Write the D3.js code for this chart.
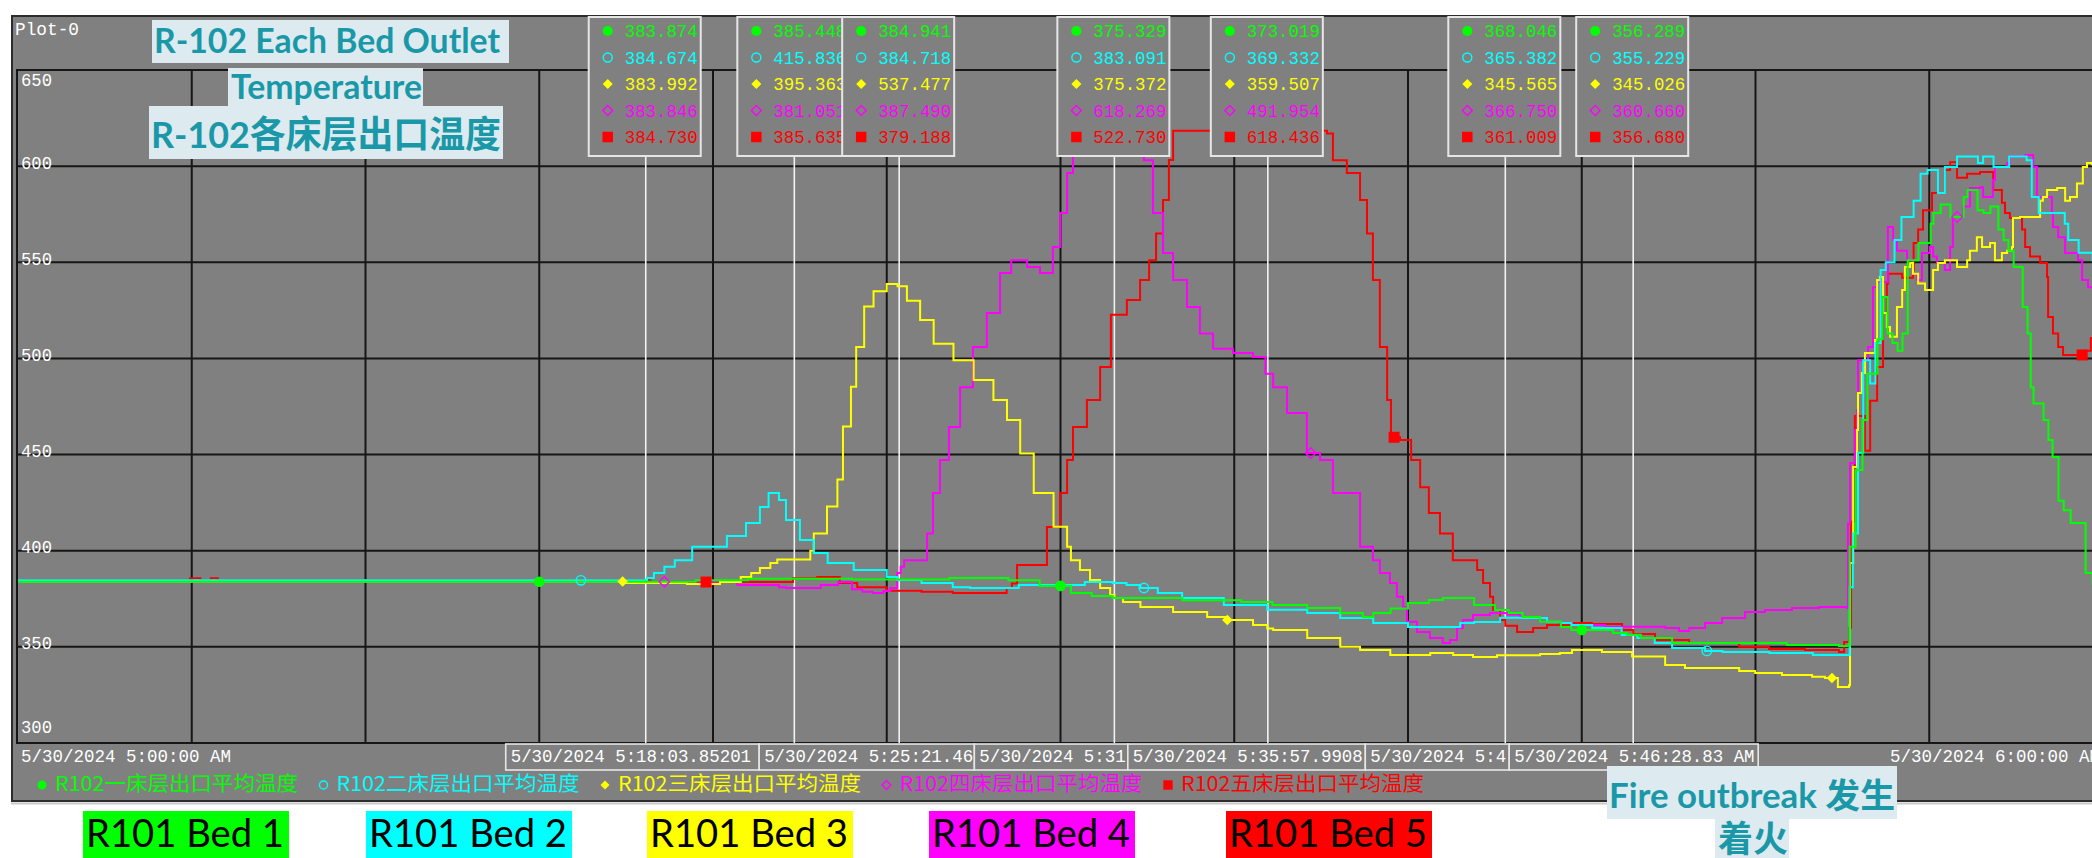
<!DOCTYPE html>
<html lang="en">
<head>
<meta charset="UTF-8">
<title>R-102 Each Bed Outlet Temperature</title>
<script src="https://cdn.jsdelivr.net/npm/d3@7"></script>
<style>
body { margin: 0; background: #fff; }
svg { display: block; }
.mono { font-family: "Liberation Mono", "DejaVu Sans Mono", monospace; font-size: 18px; }
.title { font-family: Lato, "Noto Sans CJK SC", sans-serif; font-weight: 700; fill: #1a98a8; }
.cjk { font-family: "Noto Sans CJK SC", sans-serif; }
</style>
</head>
<body>
<svg width="2092" height="858"></svg>
<script>
// series: [minutes after 5:00, temperature]
var bed1 = [[0,383.9],[19.5,384.6],[21,385.4],[24,385],[26.8,385.8],[28.5,384.6],[29.4,381.7],[30.3,378],[30.9,376.5],[31.5,375.4],[33.5,374.2],[35.2,373.3],[36.1,371.8],[37.1,370.2],[38.05,367.6],[38.7,365.5],[39,367.6],[39.5,370],[40,372.8],[40.6,374.4],[41,375.4],[41.9,371.8],[42.5,369.2],[42.9,367.6],[43.3,365.5],[43.8,363],[44.4,360.3],[44.7,358.8],[45.9,357.2],[46.3,356.3],[46.7,354.6],[47.6,352],[49.5,352],[50.9,351],[52.4,350.5],[52.71,402],[52.88,442],[53.08,468],[53.22,492],[53.51,510],[53.66,532],[53.8,513],[53.94,508],[54.09,504],[54.23,513],[54.38,551],[54.69,560],[55.04,570],[55.12,575.6],[55.33,580],[55.61,573.6],[55.99,584],[56.1,587.6],[56.39,577],[56.56,575.6],[56.76,579],[56.99,567],[57.14,561.6],[57.28,556],[57.43,547.6],[57.69,526.7],[57.83,513],[57.92,485],[58,476.6],[58.29,468],[58.43,457.6],[58.55,448.8],[58.72,426],[58.87,421],[59.07,414.4],[59.5,388.4],[59.7,383],[60.3,380]];
var bed2 = [[0,384.6],[18.1,385.8],[18.3,388.4],[18.6,391.6],[18.9,395],[19.4,402],[20.4,407.6],[20.95,414.4],[21.35,422.7],[21.6,430],[21.9,426.4],[22.1,416],[22.5,405.6],[22.9,398.8],[23.3,393.6],[24.05,390],[25,386.3],[25.3,384.8],[26,383.2],[26.9,381],[27.4,380.6],[28.8,382.2],[30.7,383.7],[31.5,383.2],[31.9,382.2],[32.3,380.6],[32.8,378],[33.5,375.4],[34.7,371.8],[35.95,369.3],[37.1,367.6],[38.05,365],[39,362.4],[40,360.3],[41.15,360.3],[41.5,362.4],[41.9,362.9],[42.65,365.2],[43.3,365],[44,363],[44.4,362.4],[44.7,361.4],[45.3,359.8],[46.15,356.2],[46.6,354.6],[47.1,352],[47.6,349.4],[48.55,347.9],[49.05,347.3],[50.4,346.8],[51.65,345.8],[52.71,381],[52.8,409],[52.95,451],[53.1,499],[53.3,487],[53.45,508],[53.6,546],[53.75,550],[54,561.6],[54.2,573.6],[54.55,582],[54.75,596],[54.95,598],[55.25,586],[55.45,599.6],[55.8,605],[56.4,601.6],[56.55,605],[56.85,599.6],[57.3,605],[57.8,603],[57.95,584],[58.15,575.6],[58.9,570],[59,561.6],[59.3,555],[59.7,551],[60.3,550]];
var bed3 = [[0,384],[17.5,383.2],[19.25,382.7],[20.2,383.7],[20.8,386.3],[21.1,388.4],[21.35,391],[21.65,393.6],[21.85,395.4],[22.8,400],[22.9,409],[23.28,423],[23.58,437],[23.74,464.6],[23.97,485.3],[24.12,506],[24.35,527],[24.62,535],[25,538.7],[25.31,537.5],[25.58,530],[25.96,520],[26.35,507.6],[26.92,499],[27.5,488.8],[28.07,478.4],[28.46,468],[28.84,450.6],[29.23,430],[29.8,412.5],[30.19,402],[30.3,395],[30.56,390],[30.85,384.8],[31.14,380.6],[31.43,377],[31.55,375.4],[31.8,373.3],[32.3,370.7],[33.24,368.1],[34.22,365.5],[34.8,364],[35.54,361.4],[35.95,359.5],[36.12,358.8],[37.1,354.6],[38.05,350],[38.62,348.4],[39.49,345.8],[40.64,346.8],[41.3,345.8],[41.87,344.7],[42.56,345.6],[43.8,346.3],[44.37,346.8],[44.72,348.4],[45.58,347.3],[46.45,345],[47.4,340.6],[47.97,339],[49.53,337.5],[49.99,336.4],[50.76,335.4],[51.63,334.4],[52,333.8],[52.37,329.1],[52.69,330],[52.72,393.6],[52.81,443.5],[52.92,462.8],[52.95,482],[53.06,492.4],[53.15,502.8],[53.44,509.6],[53.5,540.8],[53.58,542.4],[53.67,523.6],[53.78,516.4],[53.87,511.3],[54.07,526.7],[54.22,535.6],[54.3,547.6],[54.45,549.6],[54.53,544],[54.68,539],[54.88,535.6],[55.11,546],[55.25,549.6],[55.45,551],[55.8,547.6],[56.09,551],[56.17,556],[56.37,563],[56.52,558],[56.75,560],[56.89,551],[57.09,554.8],[57.24,556],[57.38,558],[57.41,573],[57.61,573.6],[58.19,582],[58.27,584],[58.39,587.6],[58.68,588.6],[58.91,582],[59.05,584],[59.25,591],[59.42,599.6],[59.54,601.6],[59.68,601],[60.3,600]];
var bed4 = [[0,383.8],[20.7,382.2],[21.9,381],[22.1,380.6],[23.1,382.2],[23.6,383.7],[24,380],[24.3,378.6],[24.6,378],[24.9,379],[25.1,380.6],[25.3,388.4],[25.4,391.6],[25.5,395],[26.16,409],[26.33,430],[26.53,447.2],[26.79,464.4],[27.11,485],[27.48,506],[27.88,523.6],[28.26,544.4],[28.58,551],[29.04,547.6],[29.41,544.4],[29.78,558],[29.99,575.6],[30.19,596.4],[30.36,605.3],[30.6,612],[31,618.3],[31.9,624],[32.15,612],[32.4,603],[32.66,575.6],[32.95,554.8],[33.24,540.8],[33.64,526.7],[34.01,513],[34.39,505],[34.96,502.8],[35.54,500.7],[35.9,492],[36.12,485],[36.52,471.6],[37.09,450.8],[37.47,447.2],[37.84,430],[38.62,402],[38.99,395],[39.19,388.4],[39.48,383.2],[39.68,376],[39.86,370.7],[39.97,363],[40.26,357.7],[40.63,354.6],[41,352],[41.21,353.6],[41.41,359.8],[41.58,364],[41.87,366.6],[42.36,367.6],[42.85,366.8],[43.22,365.5],[43.8,363],[44.37,362.4],[44.72,361.4],[45.67,360.5],[47.4,359.8],[47.8,358.3],[48.09,359.8],[48.55,362.4],[49.04,365],[49.7,368.1],[50.27,369.2],[51.05,370.2],[51.83,370.7],[52.63,370.2],[52.66,414],[52.72,445.6],[52.86,462.8],[52.92,473],[52.95,499],[53.24,506],[53.38,537],[53.5,539.8],[53.81,568.4],[53.96,561.6],[54.07,556],[54.36,551],[54.53,544],[54.65,540.8],[54.79,554.8],[55.02,558],[55.11,553],[55.22,549.6],[55.45,546],[55.6,558],[55.68,573.6],[55.97,579],[56.17,588.6],[56.46,589],[56.55,584],[56.83,592.8],[56.89,599.6],[57.24,601.6],[57.32,605],[57.76,605.8],[57.99,599.6],[58.1,584],[58.53,575.6],[58.56,568.4],[58.71,563],[58.91,554.8],[59.28,551],[59.4,540.8],[59.57,537],[60.3,535]];
var bed5 = [[0,384.7],[4.95,385.7],[5.25,384.7],[5.55,385.7],[5.75,384.7],[18.2,383.7],[22.3,385.7],[23,386.3],[23.65,383.2],[24.15,381],[25,379.2],[26,378.6],[26.9,378],[28.45,380.6],[28.6,383],[28.75,392.6],[29.61,412.3],[29.99,430],[30.19,447.2],[30.36,464.4],[30.76,478.4],[31.14,495.6],[31.45,522.7],[31.91,530.4],[32.29,540.8],[32.55,551],[32.75,565],[32.95,582.4],[33.12,603.2],[33.24,618.4],[37.67,617],[37.84,603],[38.24,596.4],[38.62,582.4],[38.82,565],[38.99,540.8],[39.19,506],[39.4,478.4],[39.51,459],[39.77,457.6],[40.09,447.2],[40.35,433],[40.6,419.6],[40.92,409],[41.29,395],[41.99,390],[42.16,383.2],[42.36,376],[42.45,369.2],[42.65,364],[42.8,361],[43.14,357.7],[43.6,359.8],[44,361.4],[44.72,362.4],[45.29,361.9],[46.16,358.8],[46.48,356.7],[47.11,353.6],[48.09,352],[49.53,350],[50.39,348.9],[51.42,348.4],[52.4,347.3],[52.55,352.5],[52.69,360],[52.75,415],[52.86,470],[53.15,452],[53.3,478],[53.5,495.6],[53.67,523.6],[53.78,539],[53.82,544],[54.22,542],[54.53,546],[54.55,560],[54.68,567],[54.82,577],[55.08,586],[55.45,598],[55.6,602],[55.8,594],[56.09,596],[56.46,597],[56.84,587.6],[57.09,581],[57.18,575.6],[57.32,573],[57.67,567],[57.76,558],[57.9,553],[58.19,549.6],[58.39,542.4],[58.42,521.6],[58.56,513],[58.71,506],[58.85,501.8],[59.5,504],[59.65,510.6],[60.3,512]];

var bedNames = ["R102一床层出口平均温度", "R102二床层出口平均温度", "R102三床层出口平均温度", "R102四床层出口平均温度", "R102五床层出口平均温度"];
var bedColors = ["#00ff00", "#00ffff", "#ffff00", "#ff00ff", "#ff0000"];
var bedTags = ["R101 Bed 1", "R101 Bed 2", "R101 Bed 3", "R101 Bed 4", "R101 Bed 5"];
var yTicks = [650, 600, 550, 500, 450, 400, 350, 300];
var xTickLabels = ["5/30/2024 5:00:00 AM", "5/30/2024 6:00:00 AM"];

// data cursors (minutes after 5:00) and the values read at them
var cursorMinutes = [18.0642, 22.34, 25.3577, 31.55, 35.9665, 42.8, 46.4805];
var cursorLabels = ["5/30/2024 5:18:03.85201", "", "5/30/2024 5:25:21.46", "5/30/2024 5:31", "5/30/2024 5:35:57.9908", "5/30/2024 5:4", "5/30/2024 5:46:28.83 AM"];
var cursorBed1 = [383.874, 385.448, 384.941, 375.329, 373.019, 368.046, 356.289];
var cursorBed2 = [384.674, 415.836, 384.718, 383.091, 369.332, 365.382, 355.229];
var cursorBed3 = [383.992, 395.363, 537.477, 375.372, 359.507, 345.565, 345.026];
var cursorBed4 = [383.846, 381.051, 387.490, 618.269, 491.954, 366.750, 360.660];
var cursorBed5 = [384.730, 385.635, 379.188, 522.730, 618.436, 361.009, 356.680];

var series = [bed1, bed2, bed3, bed4, bed5];
var cursorVals = [cursorBed1, cursorBed2, cursorBed3, cursorBed4, cursorBed5];

var svg = d3.select("svg");
var x = d3.scaleLinear().domain([0, 60]).range([18, 2103]);
var y = d3.scaleLinear().domain([300, 650]).range([743, 70]);
var pTop = 70, pBottom = 743, pLeft = 17, pRight = 2103;

var gray = "#808080", grid = "#161616";

svg.append("rect").attr("width", 2092).attr("height", 858).attr("fill", "#fff");
svg.append("rect").attr("x", 12).attr("y", 16).attr("width", 2100).attr("height", 785)
    .attr("fill", gray).attr("stroke", "#2c2c2c").attr("stroke-width", 2);
svg.append("line").attr("x1", 11).attr("x2", 2092).attr("y1", 803.5).attr("y2", 803.5)
    .attr("stroke", "#c8c8c8").attr("stroke-width", 2);

svg.append("text").attr("class", "mono").attr("x", 15).attr("y", 35).attr("fill", "#fff")
    .attr("textLength", 64).attr("lengthAdjust", "spacingAndGlyphs").text("Plot-0");

// grid
var g = svg.append("g");
g.selectAll(".vg").data(d3.range(5, 60, 5)).enter().append("line")
    .attr("x1", d => x(d)).attr("x2", d => x(d)).attr("y1", pTop).attr("y2", pBottom)
    .attr("stroke", grid).attr("stroke-width", 2);
g.selectAll(".hg").data(yTicks.slice(1, -1)).enter().append("line")
    .attr("x1", pLeft).attr("x2", pRight).attr("y1", d => y(d)).attr("y2", d => y(d))
    .attr("stroke", grid).attr("stroke-width", 2);
g.append("rect").attr("x", pLeft).attr("y", pTop).attr("width", pRight - pLeft).attr("height", pBottom - pTop)
    .attr("fill", "none").attr("stroke", grid).attr("stroke-width", 2);

// y labels
svg.selectAll(".yl").data(yTicks).enter().append("text").attr("class", "mono")
    .attr("x", 21)
    .attr("y", d => d === 650 ? y(d) + 16 : d === 300 ? y(d) - 10 : y(d) + 2.5)
    .attr("fill", "#fff").attr("textLength", 31).attr("lengthAdjust", "spacingAndGlyphs")
    .text(d => d);

// cursor lines
svg.selectAll(".cl").data(cursorMinutes).enter().append("line")
    .attr("x1", d => x(d)).attr("x2", d => x(d)).attr("y1", 156).attr("y2", pBottom)
    .attr("stroke", "#f2f2f2").attr("stroke-width", 1.6);

// curves
svg.append("clipPath").attr("id", "plotclip").append("rect")
    .attr("x", pLeft + 1).attr("y", pTop + 1).attr("width", pRight - pLeft).attr("height", pBottom - pTop - 2);
var line = d3.line().x(d => x(d[0])).y(d => y(d[1])).curve(d3.curveStepAfter);
var plot = svg.append("g").attr("clip-path", "url(#plotclip)");
[4, 3, 2, 1, 0].forEach(function(i) {
    plot.append("path").datum(series[i]).attr("d", line)
        .attr("fill", "none").attr("stroke", bedColors[i]).attr("stroke-width", 2);
});

// marker shapes: dot, ring, diamond, open diamond, square
var symTypes = [d3.symbolCircle, d3.symbolCircle, d3.symbolSquare, d3.symbolSquare, d3.symbolSquare];
var symRot = [0, 0, 45, 45, 0];
var symFilled = [true, false, true, false, true];
var symSize = [80, 64, 50, 50, 110];
function marker(sel, i, cx, cy, k) {
    sel.append("path")
        .attr("d", d3.symbol().type(symTypes[i]).size(symSize[i] * (k || 1))())
        .attr("transform", "translate(" + cx + "," + cy + ") rotate(" + symRot[i] + ")")
        .attr("fill", symFilled[i] ? bedColors[i] : "none")
        .attr("stroke", bedColors[i]).attr("stroke-width", symFilled[i] ? 0 : 1.4);
}

// markers along each curve
var bis = d3.bisector(d => d[0]).right;
series.forEach(function(s, i) {
    var step = 15 + 1.2 * i;
    for (var t = step; t < 60; t += step) {
        var v = s[bis(s, t) - 1][1];
        marker(plot, i, x(t), y(v), 1.1);
    }
});

// value boxes at the cursors
cursorMinutes.forEach(function(m, c) {
    var cx = x(m);
    var bx = cx - 57, bw = 112, by = 17, bh = 139;
    var box = svg.append("g");
    box.append("clipPath").attr("id", "bc" + c).append("rect")
        .attr("x", bx).attr("y", by).attr("width", bw - 1).attr("height", bh);
    box.append("rect").attr("x", bx).attr("y", by).attr("width", bw).attr("height", bh)
        .attr("fill", gray).attr("stroke", "#e6e6e6").attr("stroke-width", 2);
    var inner = box.append("g").attr("clip-path", "url(#bc" + c + ")");
    for (var i = 0; i < 5; i++) {
        var cy = by + 14 + i * 26.5;
        marker(inner, i, bx + 19, cy, 1);
        inner.append("text").attr("class", "mono").attr("x", bx + 36).attr("y", cy + 6)
            .attr("fill", bedColors[i]).attr("textLength", 73).attr("lengthAdjust", "spacingAndGlyphs")
            .text(d3.format(".3f")(cursorVals[i][c]));
    }
});

// x axis labels
svg.append("text").attr("class", "mono").attr("x", 21).attr("y", 762).attr("fill", "#fff")
    .attr("textLength", 210).attr("lengthAdjust", "spacingAndGlyphs").text(xTickLabels[0]);
svg.append("text").attr("class", "mono").attr("x", 1890).attr("y", 762).attr("fill", "#fff")
    .attr("textLength", 210).attr("lengthAdjust", "spacingAndGlyphs").text(xTickLabels[1]);

// cursor time boxes under the axis
var labelled = [0, 2, 3, 4, 5, 6];
var lefts = labelled.map(c => c === 6 ? x(cursorMinutes[c]) - 124 : x(cursorMinutes[c]) - 140);
labelled.forEach(function(c, k) {
    var lx = lefts[k];
    var rx = k < labelled.length - 1 ? lefts[k + 1] : lx + 249;
    var lb = svg.append("g");
    lb.append("clipPath").attr("id", "lc" + c).append("rect")
        .attr("x", lx).attr("y", 744).attr("width", rx - lx - 1).attr("height", 26);
    lb.append("rect").attr("x", lx).attr("y", 744).attr("width", rx - lx).attr("height", 26)
        .attr("fill", gray).attr("stroke", "#e6e6e6").attr("stroke-width", 1.6);
    lb.append("text").attr("class", "mono").attr("x", lx + 5).attr("y", 762).attr("fill", "#fff")
        .attr("clip-path", "url(#lc" + c + ")")
        .attr("textLength", cursorLabels[c].length * 10.45).attr("lengthAdjust", "spacingAndGlyphs")
        .text(cursorLabels[c]);
});

// legend
bedNames.forEach(function(n, i) {
    var lx = 42 + i * 281.5;
    marker(svg, i, lx, 785, 0.8);
    svg.append("text").attr("class", "cjk").attr("x", lx + 13).attr("y", 791)
        .attr("font-size", 20).attr("fill", bedColors[i])
        .attr("textLength", 243).attr("lengthAdjust", "spacingAndGlyphs").text(n);
});

// titles
function tag(bx, by, bw, bh, tx, ty, tw, size, txt) {
    svg.append("rect").attr("x", bx).attr("y", by).attr("width", bw).attr("height", bh).attr("fill", "#ddebf0");
    svg.append("text").attr("class", "title").attr("x", tx).attr("y", ty).attr("font-size", size)
        .attr("textLength", tw).attr("lengthAdjust", "spacingAndGlyphs").text(txt);
}
tag(152, 20, 357, 43, 154, 53, 346, 34, "R-102 Each Bed Outlet");
tag(228, 68, 195, 38, 231, 99, 191, 34, "Temperature");
tag(149, 106, 354, 53, 151, 148, 350, 37, "R-102各床层出口温度");
tag(1607, 766, 290, 53, 1609, 808, 286, 34, "Fire outbreak 发生");
tag(1715, 819, 74, 39, 1718, 852, 70, 36, "着火");

// bed name tags under the chart
var tagX = [83, 366, 647, 929, 1226];
bedTags.forEach(function(t, i) {
    svg.append("rect").attr("x", tagX[i]).attr("y", 811).attr("width", 206).attr("height", 47)
        .attr("fill", bedColors[i]);
    svg.append("text").attr("x", tagX[i] + 3).attr("y", 847)
        .attr("font-family", "Lato, sans-serif").attr("font-size", 38).attr("fill", "#000")
        .attr("textLength", 198).attr("lengthAdjust", "spacingAndGlyphs").text(t);
});
</script>
</body>
</html>
